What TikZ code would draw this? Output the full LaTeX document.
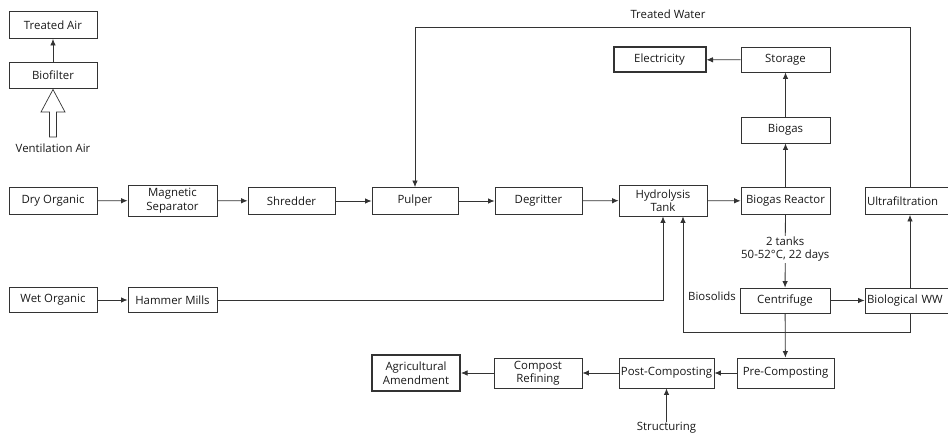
\documentclass[tikz,border=0pt]{standalone}
\usepackage{fontspec}
\setmainfont{Open Sans}
\usetikzlibrary{arrows.meta}
\begin{document}
\begin{tikzpicture}[x=1pt,y=-1pt,
  font=\fontsize{11.4}{13.5}\selectfont,
  box/.style={draw=black!80, line width=0.9pt, minimum width=88pt, minimum height=26pt, inner sep=1pt, align=center, text=black!90},
  thickbox/.style={box, line width=2pt},
  lbl/.style={text=black!90, inner sep=1pt, align=center},
  arr/.style={draw=black!80, line width=0.8pt, -{Latex[length=6.5pt,width=5.5pt]}},
  ln/.style={draw=black!80, line width=0.8pt},
  ]
\useasboundingbox (0,0) rectangle (948,436);

% top left
\node[box, minimum height=27pt] (tair) at (53,25) {Treated Air};
\node[box] (biofilter) at (53,75) {Biofilter};
\node[lbl] (vent) at (53,148) {Ventilation Air};
\draw[arr] (biofilter) -- (tair);
\draw[ln, fill=white, line width=0.7pt] (49.5,137) -- (49.5,112) -- (41,112) -- (53,89.5) -- (65,112) -- (56.5,112) -- (56.5,137) -- cycle;

% middle row
\node[box, minimum height=27pt] (dry) at (53,201) {Dry Organic};
\node[box, minimum width=89pt, minimum height=31pt] (mag) at (172.5,200.5) {Magnetic\\Separator};
\node[box, minimum width=87pt, minimum height=27pt] (shred) at (291.5,201) {Shredder};
\node[box, minimum width=86pt, minimum height=27pt] (pulper) at (415,201) {Pulper};
\node[box, minimum width=87pt, minimum height=27pt] (degrit) at (538.5,201) {Degritter};
\node[box, minimum height=31pt] (hydro) at (663,200.5) {Hydrolysis\\Tank};
\node[box, minimum width=89pt, minimum height=27pt] (reactor) at (785.5,201) {Biogas Reactor};
\node[box, minimum width=90pt, minimum height=27pt, text width=86pt, inner xsep=2pt, align=left] (ultra) at (910,201) {Ultrafiltration};

\draw[arr] (dry) -- (mag);
\draw[arr] (mag) -- (shred);
\draw[arr] (shred) -- (pulper);
\draw[arr] (pulper) -- (degrit);
\draw[arr] (degrit) -- (hydro);
\draw[arr] (hydro) -- (reactor);

% top right
\node[box, minimum width=89pt, minimum height=25pt] (storage) at (785.5,59.5) {Storage};
\node[thickbox, minimum width=92pt, minimum height=25pt] (elec) at (659.5,60) {Electricity};
\node[box, minimum width=89pt, minimum height=26pt] (biogas) at (785.5,130) {Biogas};
\draw[arr] (reactor) -- (biogas);
\draw[arr] (biogas) -- (storage);
\draw[arr] (storage) -- (elec);

% treated water loop
\coordinate (twR) at (910,27);
\coordinate (twL) at (415,27);
\node[lbl] (twlabel) at (668,14) {Treated Water};
\draw[arr] (ultra.north) -- (twR) -- (twL) -- (pulper.north);

% wet row
\node[box, minimum height=25pt] (wet) at (53,300) {Wet Organic};
\node[box, minimum width=89pt, minimum height=25pt] (hammer) at (172.5,300) {Hammer Mills};
\draw[arr] (wet) -- (hammer);
\draw[arr] (hammer.east) -| (hydro.south);

% centrifuge
\node[box, minimum width=90pt, minimum height=25pt] (centri) at (785,300.5) {Centrifuge};
\node[box, minimum width=90pt, minimum height=25pt, text width=86pt, inner xsep=2pt, align=left] (bioww) at (910,300.5) {Biological WW};
\node[lbl] (biosol) at (712,296) {Biosolids};
\draw[arr] (reactor) -- node[lbl, fill=white, pos=0.47] (tanks) {2 tanks\\50-52°C, 22 days} (centri);
\draw[arr] (centri) -- (bioww);
\draw[arr] (bioww) -- (ultra);
\coordinate (loopR) at (910,332);
\coordinate (loopL) at (683,332);
\draw[arr] (bioww.south) -- (loopR) -- (loopL) -- (hydro.south -| loopL);

% bottom row
\node[thickbox, minimum width=88pt, minimum height=36pt] (agri) at (416,373) {Agricultural\\Amendment};
\node[box, minimum width=88pt, minimum height=30pt] (compost) at (538,373) {Compost\\Refining};
\node[box, minimum width=95pt, minimum height=30pt] (post) at (666.5,373) {Post-Composting};
\node[box, minimum width=97pt, minimum height=30pt] (pre) at (785.5,373) {Pre-Composting};
\node[lbl] (struct) at (666.5,428) {Structuring};
\draw[arr] (centri) -- (pre);
\draw[arr] (pre) -- (post);
\draw[arr] (post) -- (compost);
\draw[arr] (compost) -- (agri);
\draw[arr] ([yshift=-1pt]struct.north) -- (post);
\end{tikzpicture}
\end{document}
